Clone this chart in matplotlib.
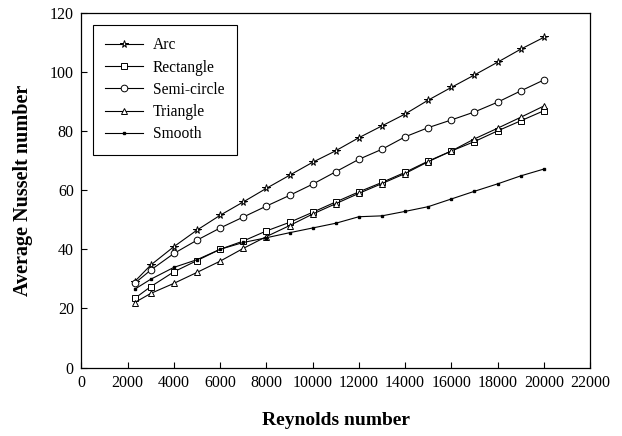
import numpy as np
import matplotlib.pyplot as plt

re = [2300, 3000, 4000, 5000, 6000, 7000, 8000, 9000, 10000, 11000,
      12000, 13000, 14000, 15000, 16000, 17000, 18000, 19000, 20000]

arc = [29.1, 34.7, 40.9, 46.5, 51.5, 56.0, 60.6, 65.0, 69.4, 73.3,
       77.7, 81.7, 85.7, 90.4, 94.7, 98.9, 103.2, 107.6, 111.6]
rectangle = [23.4, 27.4, 32.4, 36.2, 40.0, 42.8, 46.2, 49.1, 52.5, 56.0,
             59.4, 62.6, 66.0, 69.8, 73.2, 76.4, 80.0, 83.4, 86.8]
semicircle = [28.5, 33.0, 38.6, 43.1, 47.2, 50.9, 54.6, 58.2, 62.0, 66.2,
              70.4, 73.8, 78.0, 81.1, 83.7, 86.4, 89.7, 93.5, 97.2]
triangle = [22.0, 25.1, 28.5, 32.2, 36.0, 40.3, 44.3, 48.0, 51.9, 55.4,
            58.9, 62.2, 65.6, 69.6, 73.2, 77.3, 80.9, 84.6, 88.4]
smooth = [26.5, 29.9, 33.9, 36.5, 40.0, 42.3, 43.9, 45.6, 47.2, 48.8,
          51.0, 51.3, 52.8, 54.4, 57.0, 59.6, 62.1, 64.8, 67.1]

plt.rcParams['font.family'] = ['Liberation Serif', 'DejaVu Serif']

fig = plt.figure(figsize=(6.22, 4.36), dpi=100)
ax = fig.add_axes([0.131, 0.1567, 0.8176, 0.8146])

kw = dict(color='black', lw=0.8, mfc='white', mec='black', mew=0.7)
ax.plot(re, arc, marker='*', ms=5.5, label='Arc', **kw)
ax.plot(re, rectangle, marker='s', ms=4.5, label='Rectangle', **kw)
ax.plot(re, semicircle, marker='o', ms=4.8, label='Semi-circle', **kw)
ax.plot(re, triangle, marker='^', ms=5, label='Triangle', **kw)
ax.plot(re, smooth, color='black', lw=0.8, marker='s', ms=1.6, label='Smooth')

ax.set_xlim(0, 22000)
ax.set_ylim(0, 120)
ax.set_xticks(np.arange(0, 22001, 2000))
ax.set_yticks(np.arange(0, 121, 20))
ax.tick_params(direction='in', length=4, width=0.8, labelsize=11.5, pad=5.5,
               top=False, right=False)
for s in ax.spines.values():
    s.set_linewidth(0.9)

ax.set_xlabel('Reynolds number', fontsize=14, fontweight='bold', labelpad=15)
ax.set_ylabel('Average Nusselt number', fontsize=14.5, fontweight='bold',
              labelpad=12)

leg = ax.legend(loc='upper left', bbox_to_anchor=(0.0226, 0.965), fontsize=11.2,
                handlelength=2.4, handletextpad=0.64, borderpad=0.8,
                labelspacing=0.4, borderaxespad=0,
                fancybox=False, edgecolor='black', framealpha=1)
leg.get_frame().set_linewidth(0.8)

fig.savefig('out.png', dpi=100)
